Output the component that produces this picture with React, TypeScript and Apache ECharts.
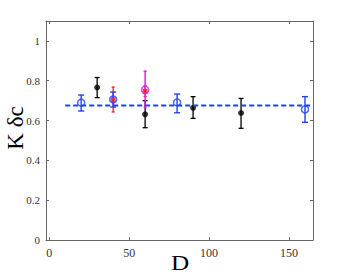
import React, { useEffect, useRef } from "react";
import * as echarts from "echarts";

const xTicks = [0, 50, 100, 150];
const yTicks = [0, 0.2, 0.4, 0.6, 0.8, 1];

const blueD = [20, 40, 80, 160];
const blueVal = [0.69, 0.706, 0.691, 0.656];
const blueLo = [0.648, 0.668, 0.639, 0.591];
const blueHi = [0.728, 0.743, 0.733, 0.72];

const blackD = [30, 60, 90, 120];
const blackVal = [0.766, 0.631, 0.664, 0.638];
const blackLo = [0.715, 0.564, 0.611, 0.561];
const blackHi = [0.816, 0.7, 0.72, 0.711];

const redD = [40, 60];
const redVal = [0.705, 0.746];
const redLo = [0.643, 0.72];
const redHi = [0.768, 0.775];

const magD = [60];
const magVal = [0.755];
const magLo = [0.665];
const magHi = [0.848];

const fitD = [10, 165];
const fitVal = [0.676, 0.676];

const BLUE = "#2040ff";
const BLACK = "#000000";
const RED = "#ff1a1a";
const MAG = "#e020e0";
const SERIF = "Liberation Serif, DejaVu Serif, serif";

function rows(d: number[], v: number[], lo: number[], hi: number[]) {
  return d.map((x, i) => [x, v[i], lo[i], hi[i]]);
}

function errSeries(data: number[][], color: string, cap: number, width: number) {
  return {
    type: "custom",
    data,
    encode: { x: 0, y: [2, 3] },
    silent: true,
    renderItem: (params: any, api: any) => {
      const x = api.value(0);
      const lo = api.coord([x, api.value(2)]);
      const hi = api.coord([x, api.value(3)]);
      const st = { stroke: color, lineWidth: width };
      const children: any[] = [
        { type: "line", shape: { x1: lo[0], y1: lo[1], x2: hi[0], y2: hi[1] }, style: st },
      ];
      if (cap > 0) {
        children.push(
          { type: "line", shape: { x1: lo[0] - cap, y1: lo[1], x2: lo[0] + cap, y2: lo[1] }, style: st },
          { type: "line", shape: { x1: hi[0] - cap, y1: hi[1], x2: hi[0] + cap, y2: hi[1] }, style: st }
        );
      }
      return { type: "group", children };
    },
  };
}

export default function App() {
  const ref = useRef<HTMLDivElement>(null);
  useEffect(() => {
    const chart = echarts.init(ref.current!, null, { renderer: "svg" });
    const axisLine = { show: true, onZero: false, lineStyle: { color: "#666", width: 1 } };
    const tick = { show: true, inside: true, length: 3, lineStyle: { color: "#666" } };
    chart.setOption({
      animation: false,
      backgroundColor: "#fff",
      textStyle: { fontFamily: SERIF },
      grid: { left: 46, right: 33, top: 21, bottom: 35, containLabel: false },
      xAxis: [
        {
          type: "value",
          min: -2,
          max: 165,
          axisLine,
          axisTick: { ...tick, customValues: xTicks },
          axisLabel: { customValues: xTicks, fontFamily: SERIF, fontSize: 12, color: "#333", margin: 7 },
          splitLine: { show: false },
        },
        {
          type: "value",
          position: "top",
          min: -2,
          max: 165,
          axisLine,
          axisTick: { ...tick, customValues: xTicks },
          axisLabel: { show: false },
          splitLine: { show: false },
        },
      ],
      yAxis: [
        {
          type: "value",
          min: 0,
          max: 1.1,
          axisLine,
          axisTick: { ...tick, customValues: yTicks },
          axisLabel: {
            customValues: yTicks,
            fontFamily: SERIF,
            fontSize: 11,
            color: "#333",
            margin: 6,
            formatter: (v: number) => String(Math.round(v * 10) / 10),
          },
          splitLine: { show: false },
        },
        {
          type: "value",
          position: "right",
          min: 0,
          max: 1.1,
          axisLine,
          axisTick: { ...tick, customValues: yTicks },
          axisLabel: { show: false },
          splitLine: { show: false },
        },
      ],
      graphic: [
        {
          type: "text",
          x: 15,
          y: 128,
          rotation: Math.PI / 2,
          style: {
            text: "K δc",
            font: `23px ${SERIF}`,
            fill: "#000",
            textAlign: "center",
            textVerticalAlign: "middle",
          },
        },
        {
          type: "text",
          x: 180,
          y: 263,
          scaleX: 1.2,
          style: {
            text: "D",
            font: `21px ${SERIF}`,
            fill: "#000",
            textAlign: "center",
            textVerticalAlign: "middle",
          },
        },
      ],
      series: [
        {
          type: "line",
          data: fitD.map((x, i) => [x, fitVal[i]]),
          symbol: "none",
          lineStyle: { color: BLUE, width: 2, type: [5, 3] },
          silent: true,
        },
        errSeries(rows(blackD, blackVal, blackLo, blackHi), BLACK, 2.5, 1.3),
        {
          type: "scatter",
          data: blackD.map((x, i) => [x, blackVal[i]]),
          symbol: "circle",
          symbolSize: 6,
          itemStyle: { color: BLACK },
        },
        errSeries(rows(redD, redVal, redLo, redHi), RED, 1.5, 1.3),
        {
          type: "scatter",
          data: redD.map((x, i) => [x, redVal[i]]),
          symbol: "rect",
          symbolSize: 5,
          itemStyle: { color: RED },
        },
        errSeries(rows(magD, magVal, magLo, magHi), MAG, 1.5, 1.5),
        {
          type: "scatter",
          data: magD.map((x, i) => [x, magVal[i]]),
          symbol: "circle",
          symbolSize: 7,
          itemStyle: { color: "rgba(0,0,0,0)", borderColor: MAG, borderWidth: 1.6 },
        },
        errSeries(rows(blueD, blueVal, blueLo, blueHi), BLUE, 3, 1.4),
        {
          type: "scatter",
          data: blueD.map((x, i) => [x, blueVal[i]]),
          symbol: "circle",
          symbolSize: 7,
          itemStyle: { color: "rgba(0,0,0,0)", borderColor: BLUE, borderWidth: 1.5 },
        },
      ],
    });
    return () => chart.dispose();
  }, []);
  return <div ref={ref} style={{ position: "fixed", left: 0, top: 0, width: 346, height: 275 }} />;
}
